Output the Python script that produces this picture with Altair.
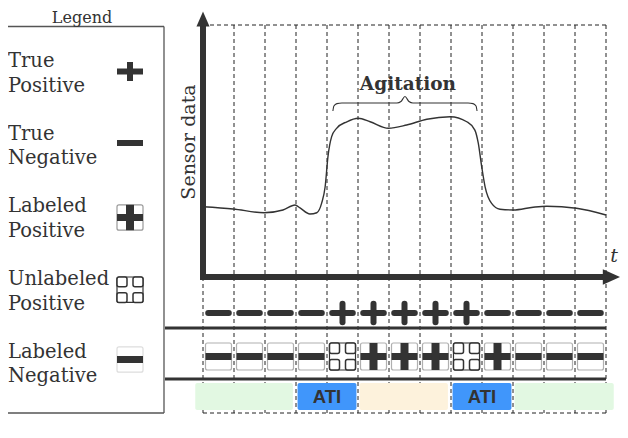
import altair as alt
import pandas as pd

# ---------------- data ----------------
legend_title = "Legend"
legend_kinds = ["TP", "TN", "LP", "UP", "LN"]
legend_line1 = ["True", "True", "Labeled", "Unlabeled", "Labeled"]
legend_line2 = ["Positive", "Negative", "Positive", "Positive", "Negative"]

truth_row = ["TN", "TN", "TN", "TN", "TP", "TP", "TP", "TP", "TP", "TN", "TN", "TN", "TN"]
label_row = ["LN", "LN", "LN", "LN", "UP", "LP", "LP", "LP", "UP", "LP", "LN", "LN", "LN"]

band_kind = ["normal", "ati", "agitation", "ati", "normal"]
band_text = ["", "ATI", "", "ATI", ""]
band_from = [-0.25, 3.05, 5.05, 8.05, 10.05]
band_to = [2.9, 4.95, 7.9, 9.95, 13.25]

curve_t = [0.0, 0.97, 1.97, 2.58, 2.97, 3.13, 3.45, 3.67, 3.83, 3.94, 4.03, 4.15,
           4.31, 4.64, 5.01, 5.39, 5.98, 6.57, 7.22, 7.97, 8.51, 8.77, 8.88, 8.99,
           9.10, 9.31, 9.58, 10.01, 10.65, 11.09, 12.05, 13.0]
curve_v = [27.9, 27.0, 25.5, 26.6, 28.6, 27.4, 25.0, 25.5, 29.4, 35.8, 47.7, 55.7,
           59.0, 61.6, 63.0, 61.6, 59.0, 60.3, 62.6, 63.6, 61.6, 58.3, 53.1, 43.8,
           35.8, 29.2, 26.9, 26.6, 27.7, 28.1, 27.3, 24.6]

agitation_label = "Agitation"
agitation_from = 4.19
agitation_to = 8.84
y_title = "Sensor data"
x_title = "t"

# ---------------- layout helpers ----------------
N = len(truth_row)
X0, DX = 203, 31
Y_AXIS, Y_TOP, Y_BOT = 277, 25, 413
ROW1_Y, ROW2_Y = 313, 356.5
SEP1, SEP2 = 328, 379
BAND_Y0, BAND_Y1 = 383, 410
FRAME_TOP = 26.5
INK = "#333333"
PAGE_W, PAGE_H = 628, 438
W, H = PAGE_W - 16, PAGE_H - 16   # chart must not overflow the window


def X(t):
    return X0 + DX * t


def Y(v):
    return Y_AXIS - 2.52 * v


XS = alt.Scale(domain=[8, 8 + W], nice=False, zero=False)
YS = alt.Scale(domain=[8, 8 + H], nice=False, zero=False, reverse=True)

bars_round, bars_butt, boxes = [], [], []


def cross(kind, cx, cy, hw, hh, target, wh=6, wv=6):
    target.append(dict(x=cx - hw, x2=cx + hw, y=cy, y2=cy, w=wh))
    if kind in ("TP", "LP"):
        target.append(dict(x=cx, x2=cx, y=cy - hh, y2=cy + hh, w=wv))


def boxed(kind, cx, cy, hw, hh, edge):
    boxes.append(dict(x=cx - hw, x2=cx + hw, y=cy - hh, y2=cy + hh, c=edge, sw=1.2))
    if kind == "UP":
        g = 3
        for (a, b) in [(cx - hw, cx - g), (cx + g, cx + hw)]:
            for (c, d) in [(cy - hh, cy - g), (cy + g, cy + hh)]:
                boxes.append(dict(x=a, x2=b, y=c, y2=d, c=INK, sw=1.5))
    else:
        cross(kind, cx, cy, hw, hh, bars_butt, wh=7, wv=8)


# row 1: ground truth
for i, k in enumerate(truth_row):
    cross(k, X(i + 0.5), ROW1_Y, 10.3, 9.2, bars_round)
# row 2: labels
for i, k in enumerate(label_row):
    boxed(k, X(i + 0.5), ROW2_Y, 13, 13.5, "#b0b0b0" if k != "UP" else INK)

# legend symbols
LEG_CX = 130
leg_sym_y = [71.5, 143, 217.5, 289.7, 359.5]
for k, yy in zip(legend_kinds, leg_sym_y):
    if k in ("TP", "TN"):
        cross(k, LEG_CX, yy, 13, 9.5, bars_butt)
    else:
        boxed(k, LEG_CX, yy, 13, 12.7, "#dddddd" if k == "LN" else ("#999999" if k == "LP" else INK))

bars_round = pd.DataFrame(bars_round)
bars_butt = pd.DataFrame(bars_butt)
boxes = pd.DataFrame(boxes)


def renc(extra=None):
    e = dict(x=alt.X("x:Q", scale=XS, axis=None), x2="x2:Q",
             y=alt.Y("y:Q", scale=YS, axis=None), y2="y2:Q")
    if extra:
        e.update(extra)
    return e


# frame / separators / axes lines
frame = pd.DataFrame([
    dict(x=0, x2=164, y=FRAME_TOP, y2=FRAME_TOP), dict(x=164, x2=164, y=FRAME_TOP, y2=413),
    dict(x=0, x2=164, y=413, y2=413)])
grid = pd.DataFrame(
    [dict(x=X(i), x2=X(i), y=Y_TOP, y2=Y_BOT) for i in range(N + 1)]
    + [dict(x=X(0), x2=X(N), y=Y_TOP, y2=Y_TOP), dict(x=X(0), x2=X(N), y=Y_BOT, y2=Y_BOT)])
seps = pd.DataFrame([dict(x=165, x2=X(N), y=SEP1, y2=SEP1),
                     dict(x=165, x2=X(N), y=SEP2, y2=SEP2)])
ARROW_TIP = 8 + W
axes = pd.DataFrame([dict(x=X0, x2=X0, y=Y_AXIS + 3, y2=24),
                     dict(x=X0, x2=ARROW_TIP - 10, y=Y_AXIS, y2=Y_AXIS)])

band_colors = {"normal": "#e2f8e2", "ati": "#4096fb", "agitation": "#fdf2dc"}
bands = pd.DataFrame(dict(x=[X(a) for a in band_from], x2=[X(b) for b in band_to],
                          y=BAND_Y0, y2=BAND_Y1,
                          c=[band_colors[k] for k in band_kind], label=band_text))
bands["xm"] = (bands["x"] + bands["x2"]) / 2
bands["ty"] = 402.5

curve = pd.DataFrame(dict(x=[X(t) for t in curve_t], y=[Y(v) for v in curve_v],
                          i=range(len(curve_t))))

a, b = X(agitation_from), X(agitation_to)
m = (a + b) / 2
brace = pd.DataFrame(dict(
    x=[a, a + 1, a + 4, a + 9, m - 8, m - 4, m, m + 4, m + 8, b - 9, b - 4, b - 1, b],
    y=[111, 106, 103.6, 103, 103, 101.5, 96.5, 101.5, 103, 103, 103.6, 106, 111]))
brace["i"] = range(len(brace))

legend_text = pd.DataFrame(
    [dict(x=8, y=67 + 72.7 * k, t=legend_line1[k]) for k in range(5)]
    + [dict(x=8, y=91.5 + 72.7 * k, t=legend_line2[k]) for k in range(5)])

XY = dict(x=alt.X("x:Q", scale=XS, axis=None), y=alt.Y("y:Q", scale=YS, axis=None))

layers = []
layers.append(alt.Chart(frame).mark_rule(color="#555555", strokeWidth=1.3).encode(**renc()))
layers.append(alt.Chart(grid).mark_rule(color="#222222", strokeWidth=1, strokeDash=[4, 3]).encode(**renc()))
layers.append(alt.Chart(bands).mark_rect(cornerRadius=2).encode(
    **renc(dict(fill=alt.Fill("c:N", scale=None)))))
layers.append(alt.Chart(bands).mark_text(font="Liberation Sans", fontWeight="bold", fontSize=18.5,
                                         color=INK, baseline="alphabetic", align="center").encode(
    x=alt.X("xm:Q", scale=XS, axis=None), y=alt.Y("ty:Q", scale=YS, axis=None), text="label:N"))
layers.append(alt.Chart(seps).mark_rule(color=INK, strokeWidth=3).encode(**renc()))
layers.append(alt.Chart(axes).mark_rule(color=INK, strokeWidth=6).encode(**renc()))

arrow_up = pd.DataFrame(dict(x=[X0], y=[19]))
arrow_right = pd.DataFrame(dict(x=[ARROW_TIP - 8.5], y=[Y_AXIS]))
layers.append(alt.Chart(arrow_up).mark_point(shape="M0,-1L0.87,1L-0.87,1Z", filled=True, size=225,
                                             color=INK, opacity=1, strokeWidth=0).encode(**XY))
layers.append(alt.Chart(arrow_right).mark_point(shape="M1,0L-1,-0.9L-1,0.9Z", filled=True, size=300,
                                                color=INK, opacity=1, strokeWidth=0).encode(**XY))

layers.append(alt.Chart(curve).mark_line(color=INK, strokeWidth=1.4, interpolate="monotone").encode(
    order="i:Q", **XY))
layers.append(alt.Chart(brace).mark_line(color=INK, strokeWidth=1.1, interpolate="monotone").encode(
    order="i:Q", **XY))

layers.append(alt.Chart(boxes).mark_rect(cornerRadius=2, fill="white").encode(
    **renc(dict(stroke=alt.Stroke("c:N", scale=None), strokeWidth=alt.StrokeWidth("sw:Q", scale=None)))))
layers.append(alt.Chart(bars_butt).mark_rule(color=INK, strokeCap="butt").encode(
    **renc(dict(strokeWidth=alt.StrokeWidth("w:Q", scale=None)))))
layers.append(alt.Chart(bars_round).mark_rule(color=INK, strokeCap="round").encode(
    **renc(dict(strokeWidth=alt.StrokeWidth("w:Q", scale=None)))))

SERIF = "DejaVu Serif"
layers.append(alt.Chart(legend_text).mark_text(font=SERIF, fontSize=19.5, color=INK, align="left",
                                               baseline="alphabetic").encode(text="t:N", **XY))

titles = pd.DataFrame(dict(x=[82], y=[23], t=[legend_title]))
layers.append(alt.Chart(titles).mark_text(font=SERIF, fontSize=16, color=INK, align="center",
                                          baseline="alphabetic").encode(text="t:N", **XY))

agit = pd.DataFrame(dict(x=[m + 3], y=[89.5], t=[agitation_label]))
layers.append(alt.Chart(agit).mark_text(font=SERIF, fontSize=18.5, fontWeight="bold", color=INK,
                                        align="center", baseline="alphabetic").encode(text="t:N", **XY))

ytit = pd.DataFrame(dict(x=[195], y=[142], t=[y_title]))
layers.append(alt.Chart(ytit).mark_text(font=SERIF, fontSize=19, color=INK, angle=270,
                                        align="center", baseline="alphabetic").encode(text="t:N", **XY))

xtit = pd.DataFrame(dict(x=[ARROW_TIP - 6], y=[262], t=[x_title]))
layers.append(alt.Chart(xtit).mark_text(font=SERIF, fontSize=19, fontStyle="italic", color=INK,
                                        align="center", baseline="alphabetic").encode(text="t:N", **XY))

chart = alt.layer(*layers).properties(
    width=W, height=H, padding=0,
    autosize=alt.AutoSizeParams(type="none"),
    background="white",
).configure_view(stroke=None)

chart.save("out.html", embed_options={"renderer": "svg", "actions": False})
